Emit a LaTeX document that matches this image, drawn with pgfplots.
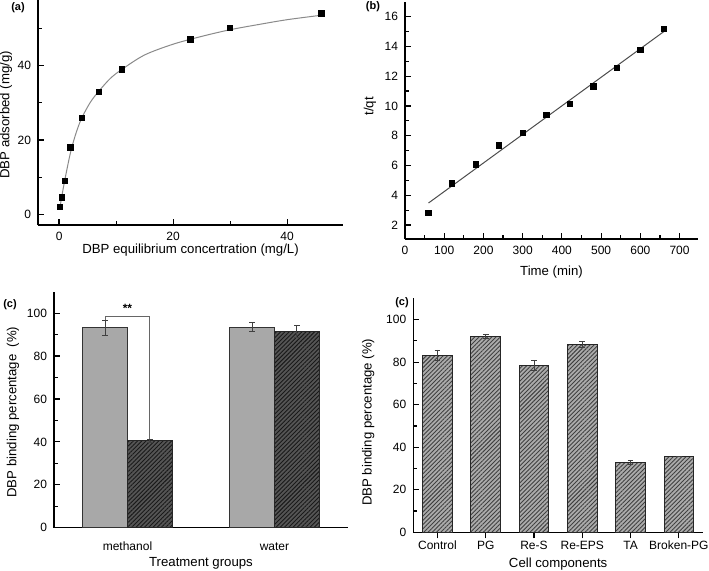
\documentclass[border=0pt]{standalone}
\usepackage{pgfplots}
\pgfplotsset{compat=1.18}
\usepackage{fontspec}
\setmainfont{Liberation Sans}
\usetikzlibrary{patterns.meta}
\definecolor{lightbar}{HTML}{A8A8A8}
\definecolor{darkbar}{HTML}{555555}
\definecolor{midbar}{HTML}{ABABAB}
\definecolor{fitgray}{HTML}{8A8A8A}
\pgfplotsset{
  panel/.style={
    scale only axis, anchor=south west, clip=false,
    axis x line*=bottom, axis y line*=left,
    tick align=inside,
    axis line style={line width=0.7pt, black},
    every tick/.style={line width=0.6pt, black},
    major tick length=3pt, minor tick length=1.8pt,
    /pgf/number format/assume math mode=true,
    ticklabel style={font=\fontsize{6}{7}\selectfont},
    label style={font=\fontsize{6.6}{7.5}\selectfont},
    xticklabel style={anchor=center, yshift=-5.5pt},
  },
  xlab/.style={xlabel style={at={([yshift=-#1]axis description cs:0.5,0)}, anchor=center}},
  ylab/.style 2 args={ylabel style={at={([xshift=-#1]axis description cs:0,#2)}, anchor=center, rotate=0}},
  barerr/.style={error bars/y dir=both, error bars/y explicit,
    error bars/error bar style={line width=0.45pt, color=black!75},
    error bars/error mark options={rotate=90, mark size=1.4pt, line width=0.45pt, black!75}},
}
\begin{document}
\begin{tikzpicture}
\useasboundingbox (0,0) rectangle (354.5pt,285pt);
% ---------------- (a)
\begin{axis}[panel, at={(19pt,172.5pt)}, width=152.5pt, height=112.5pt,
  xmin=-3.7, xmax=49.8, ymin=-2.9, ymax=57.7,
  xtick={0,20,40}, ytick={0,20,40}, minor xtick={10,30}, minor ytick={10,30,50},
  xlabel={DBP equilibrium concertration (mg/L)}, ylabel={DBP adsorbed (mg/g)},
  xlab=12.5pt, ylab={16pt}{0.49}]
\addplot[fitgray, line width=0.5pt, smooth, tension=0.5] coordinates {
(0.1,1.4) (0.5,5.0) (1,9.2) (2,16.6) (3,22.0) (4,26.0) (5.5,30.2) (7,33.2) (9,36.6) (11,39.0) (15,42.9) (20,45.8) (25,47.9) (30,49.7) (35,51.1) (40,52.4) (46,53.6)};
\addplot[only marks, mark=square*, mark size=1.35pt, black] coordinates {
(0.1,1.9) (0.5,4.5) (1,9.0) (2,18.0) (4,26.0) (7,33.0) (11,39.0) (23,47.1) (30,50.2) (46,54.1)};
\end{axis}
% ---------------- (b)
\begin{axis}[panel, at={(202.5pt,165.5pt)}, width=146.5pt, height=118.6pt,
  xmin=0, xmax=747, ymin=1.06, ymax=17,
  xtick={0,100,...,700}, ytick={2,4,...,16}, minor x tick num=1, minor y tick num=1,
  xlabel={Time (min)}, ylabel={t/qt},
  xlab=16.5pt, ylab={17.5pt}{0.56}]
\addplot[black!70, line width=0.5pt] coordinates {(60,3.48) (660,15.0)};
\addplot[only marks, mark=square*, mark size=1.35pt, black] coordinates {
(60,2.83) (120,4.80) (180,6.08) (240,7.34) (300,8.19) (360,9.38) (420,10.14) (480,11.31) (540,12.55) (600,13.78) (660,15.17)};
\end{axis}
% ---------------- (c) left
\begin{axis}[panel, at={(27pt,21.15pt)}, width=147pt, height=118pt,
  xmin=0.5, xmax=2.5, ymin=0, ymax=110,
  ybar=0pt, bar width=0.305,
  xtick={1,2}, xticklabels={methanol,water}, x tick style={draw=none},
  extra x ticks={1.5}, extra x tick labels={}, extra x tick style={tick style={draw=black}},
  ytick={0,20,...,100}, minor y tick num=1,
  xticklabel style={yshift=-1pt},
  xlabel={Treatment groups}, ylabel={DBP binding percentage\ \ (\%)},
  xlab=18pt, ylab={20.5pt}{0.49}]
\addplot[fill=lightbar, draw=black!80, line width=0.45pt, barerr] coordinates {
(1,93.2) +- (0,3.6)
(2,93.4) +- (0,2.1)};
\addplot[fill=darkbar, draw=black!85, line width=0.45pt,
  postaction={pattern={Lines[angle=45,distance=1.5pt,line width=0.45pt]}, pattern color=black!90}, barerr] coordinates {
(1,40.5) +- (0,0.7)
(2,91.3) +- (0,2.8)};
\draw[black!60, line width=0.45pt] (axis cs:0.8475,96.8) -- (axis cs:0.8475,98.6) -- (axis cs:1.1525,98.6) -- (axis cs:1.1525,41.2);
\node[font=\fontsize{6}{7}\selectfont\bfseries] at (axis cs:1.0,102.3) {**};
\end{axis}
% ---------------- (d) right
\begin{axis}[panel, at={(206.65pt,18.85pt)}, width=144.85pt, height=117pt,
  xmin=0.5, xmax=6.5, ymin=0, ymax=110,
  ybar, bar width=0.615,
  xtick={1,...,6}, xticklabels={Control,PG,Re-S,Re-EPS,TA,Broken-PG},
  ytick={0,20,...,100}, minor y tick num=1,
  xticklabel style={yshift=2pt},
  xlabel={Cell components}, ylabel={DBP binding percentage (\%)},
  xlab=16pt, ylab={22.5pt}{0.47}]
\addplot[fill=midbar, draw=black!85, line width=0.45pt,
  postaction={pattern={Lines[angle=45,distance=1.5pt,line width=0.45pt]}, pattern color=black!75}, barerr] coordinates {
(1,83.2) +- (0,2.5)
(2,92.0) +- (0,0.8)
(3,78.4) +- (0,2.3)
(4,88.2) +- (0,1.3)
(5,32.8) +- (0,0.8)
(6,35.6) +- (0,0)};
\end{axis}
% panel labels
\node[font=\fontsize{5.5}{6}\selectfont\bfseries] at (9pt,281pt) {(a)};
\node[font=\fontsize{5.5}{6}\selectfont\bfseries] at (186.5pt,281.5pt) {(b)};
\node[font=\fontsize{5.5}{6}\selectfont\bfseries] at (5pt,132.5pt) {(c)};
\node[font=\fontsize{5.5}{6}\selectfont\bfseries] at (201pt,133.5pt) {(c)};
\end{tikzpicture}
\end{document}
